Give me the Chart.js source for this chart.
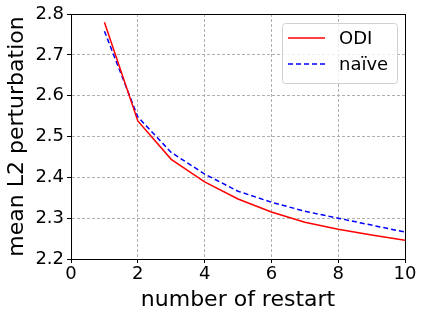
<!DOCTYPE html>
<html>
<head>
<meta charset="utf-8">
<script src="https://cdn.jsdelivr.net/npm/chart.js@4"></script>
<style>
  html, body { margin: 0; padding: 0; background: #fff; }
  #wrap { width: 424px; height: 316px; }
</style>
</head>
<body>
<div id="wrap"><canvas id="lossChart" width="424" height="316"></canvas></div>
<script>
// values
const restarts = [1, 2, 3, 4, 5, 6, 7, 8, 9, 10];
const odiValues = [2.780, 2.538, 2.444, 2.389, 2.347, 2.315, 2.290, 2.273, 2.259, 2.246];
const naiveValues = [2.758, 2.548, 2.461, 2.408, 2.366, 2.339, 2.317, 2.300, 2.283, 2.266];
const xTicks = [0, 2, 4, 6, 8, 10];
const yTicks = [2.2, 2.3, 2.4, 2.5, 2.6, 2.7, 2.8];

const FONT = 'DejaVu Sans';

// black frame around the plot area + legend box inside top-right
const framePlugin = {
    id: 'frame',
    afterDraw(chart) {
        const ctx = chart.ctx;
        const a = chart.chartArea;
        ctx.save();
        ctx.strokeStyle = '#000';
        ctx.lineWidth = 1;
        ctx.setLineDash([]);
        ctx.strokeRect(a.left + 0.5, a.top + 0.5, a.right - a.left, a.bottom - a.top);

        // legend
        const bx = a.right - 123, by = a.top + 9, bw = 115, bh = 60;
        ctx.fillStyle = 'rgba(255,255,255,0.8)';
        ctx.strokeStyle = '#d0d0d0';
        ctx.beginPath();
        ctx.roundRect(bx + 0.5, by + 0.5, bw, bh, 3);
        ctx.fill();
        ctx.stroke();
        ctx.font = '18px ' + FONT;
        ctx.textBaseline = 'middle';
        chart.data.datasets.forEach((ds, i) => {
            const y = by + 15 + i * 26;
            ctx.strokeStyle = ds.borderColor;
            ctx.lineWidth = 1.5;
            ctx.setLineDash(ds.borderDash || []);
            ctx.beginPath();
            ctx.moveTo(bx + 6, y);
            ctx.lineTo(bx + 43, y);
            ctx.stroke();
            ctx.setLineDash([]);
            ctx.fillStyle = '#000';
            ctx.fillText(ds.label, bx + 57, y + 1);
        });
        ctx.restore();
    }
};

new Chart(document.getElementById('lossChart').getContext('2d'), {
    type: 'line',
    data: {
        datasets: [
            {
                label: 'ODI',
                data: restarts.map((x, i) => ({ x: x, y: odiValues[i] })),
                borderColor: '#ff0000',
                borderWidth: 1.5,
                pointRadius: 0,
                tension: 0,
                fill: false
            },
            {
                label: 'naïve',
                data: restarts.map((x, i) => ({ x: x, y: naiveValues[i] })),
                borderColor: '#0000ff',
                borderWidth: 1.5,
                borderDash: [5, 3],
                pointRadius: 0,
                tension: 0,
                fill: false
            }
        ]
    },
    options: {
        responsive: false,
        animation: false,
        layout: { padding: { left: 4, right: 19, top: 14, bottom: 3 } },
        plugins: {
            legend: { display: false },
            tooltip: { enabled: false }
        },
        scales: {
            x: {
                type: 'linear',
                min: 0,
                max: 10,
                afterBuildTicks: axis => { axis.ticks = xTicks.map(v => ({ value: v })); },
                grid: { color: '#b0b0b0', tickColor: '#000', tickLength: 4, tickBorderDash: [] },
                border: { color: '#000', dash: [3, 2] },
                ticks: { color: '#000', font: { family: FONT, size: 18 }, padding: 1, maxRotation: 0 },
                title: { display: true, text: 'number of restart', color: '#000', font: { family: FONT, size: 22 }, padding: { top: 0, bottom: 0 } }
            },
            y: {
                min: 2.2,
                max: 2.8,
                afterBuildTicks: axis => { axis.ticks = yTicks.map(v => ({ value: v })); },
                grid: { color: '#b0b0b0', tickColor: '#000', tickLength: 4, tickBorderDash: [] },
                border: { color: '#000', dash: [3, 2] },
                ticks: { color: '#000', font: { family: FONT, size: 18 }, padding: 3, callback: v => v.toFixed(1) },
                title: { display: true, text: 'mean L2 perturbation', color: '#000', font: { family: FONT, size: 22 }, padding: { top: 0, bottom: 2 } }
            }
        }
    },
    plugins: [framePlugin]
});
</script>
</body>
</html>
